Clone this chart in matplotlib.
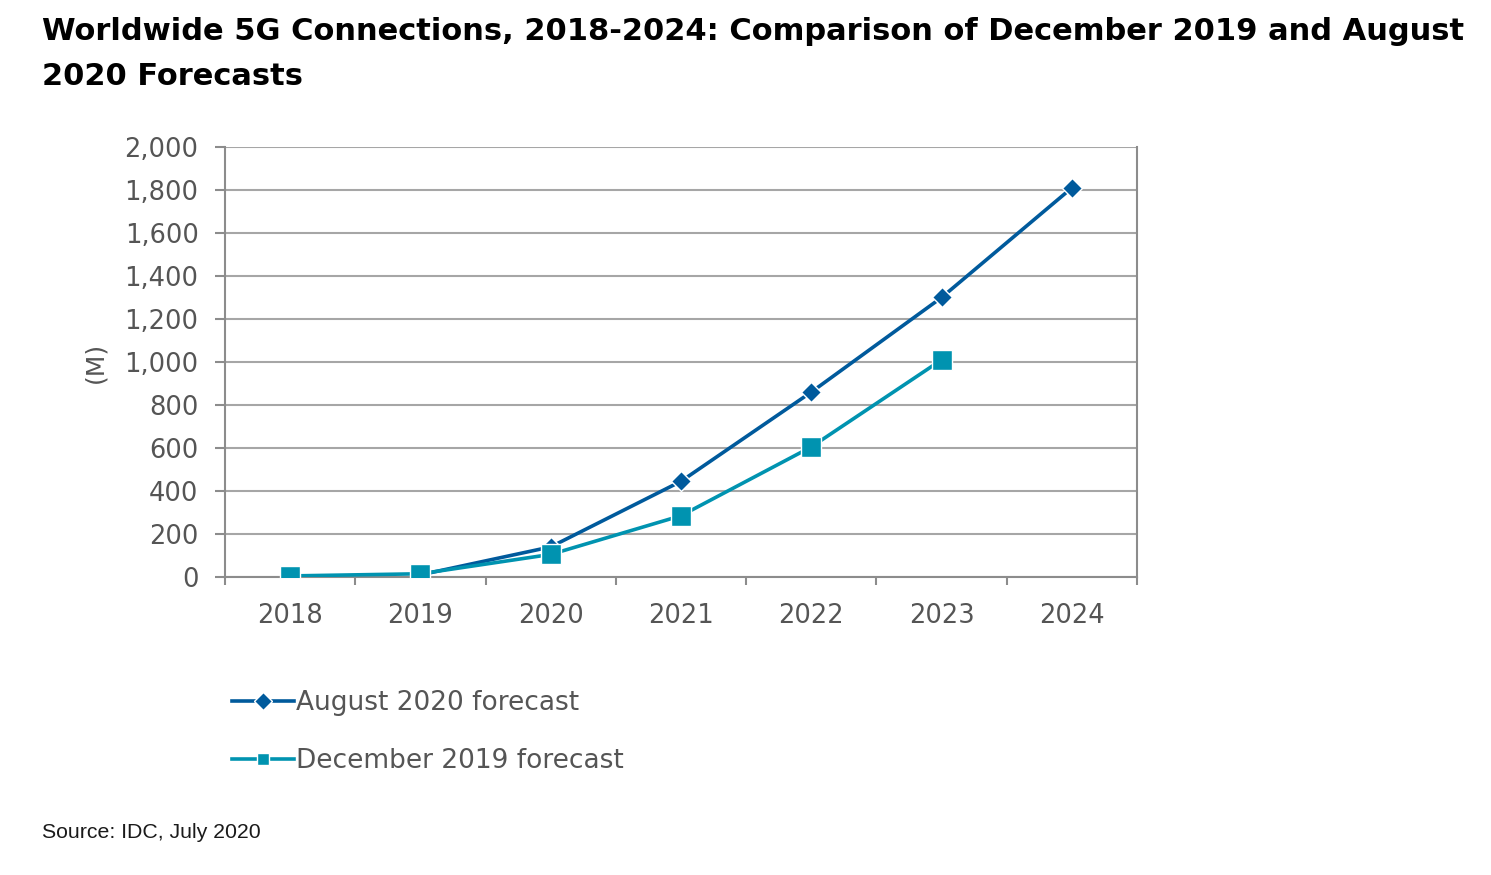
import matplotlib
matplotlib.use("Agg")
import matplotlib.pyplot as plt
import numpy as np

years = ["2018", "2019", "2020", "2021", "2022", "2023", "2024"]
aug_2020 = [np.nan, 10, 140, 445, 860, 1300, 1810]
dec_2019 = [5, 15, 105, 285, 605, 1010, np.nan]

blue = "#005a9c"
teal = "#0093b0"
grey_txt = "#555555"
grey_ax = "#8c8c8c"

fig = plt.figure(figsize=(14.91, 8.75), dpi=100)
ax = fig.add_axes([225/1491, 1-577/875, (1137-225)/1491, (577-147)/875])

x = np.arange(len(years))
ax.plot(x, aug_2020, color=blue, lw=2.6, marker="D", ms=10, mec="white", mew=1,
        label="August 2020 forecast", zorder=3)
ax.plot(x, dec_2019, color=teal, lw=2.6, marker="s", ms=15, mec="white", mew=1,
        label="December 2019 forecast", zorder=4)

ax.set_xlim(-0.5, len(years) - 0.5)
ax.set_ylim(0, 2000)
ax.set_yticks(range(0, 2001, 200))
ax.set_yticklabels([f"{v:,}" for v in range(0, 2001, 200)])
ax.set_xticks(x)
ax.set_xticklabels(years)
ax.set_xticks(np.arange(-0.5, len(years)), minor=True)
ax.tick_params(axis="x", which="major", length=0, pad=19, labelsize=18.5, labelcolor=grey_txt)
ax.tick_params(axis="x", which="minor", length=6, width=1.5, color=grey_ax, direction="out")
ax.tick_params(axis="y", length=7, width=1.5, color=grey_ax, pad=12, labelsize=18.5, labelcolor=grey_txt)
ax.yaxis.grid(True, color="#a6a6a6", lw=1.5)
ax.set_axisbelow(True)
for s in ["left", "bottom", "right"]:
    ax.spines[s].set_color(grey_ax)
    ax.spines[s].set_linewidth(1.5)
ax.spines["top"].set_visible(False)

ax.set_ylabel("(M)", color=grey_txt, fontsize=18, labelpad=12)

fig.text(42/1491, 1-17/875, "Worldwide 5G Connections, 2018-2024: Comparison of December 2019 and August\n2020 Forecasts",
         fontsize=22, fontweight="bold", va="top", ha="left", linespacing=1.7)

leg = fig.legend(loc="upper left", bbox_to_anchor=(214/1491, 1-672/875), frameon=False,
                 fontsize=19, handlelength=2.35, handletextpad=0.05, labelspacing=1.2,
                 borderpad=0.2, labelcolor=grey_txt)
for h in leg.legend_handles:
    h.set_markersize(9)

fig.text(42/1491, 1-832/875, "Source: IDC, July 2020", fontsize=15.3, family="Liberation Sans",
         color="#1a1a1a", va="center", ha="left")

fig.savefig("out.png", dpi=100)
